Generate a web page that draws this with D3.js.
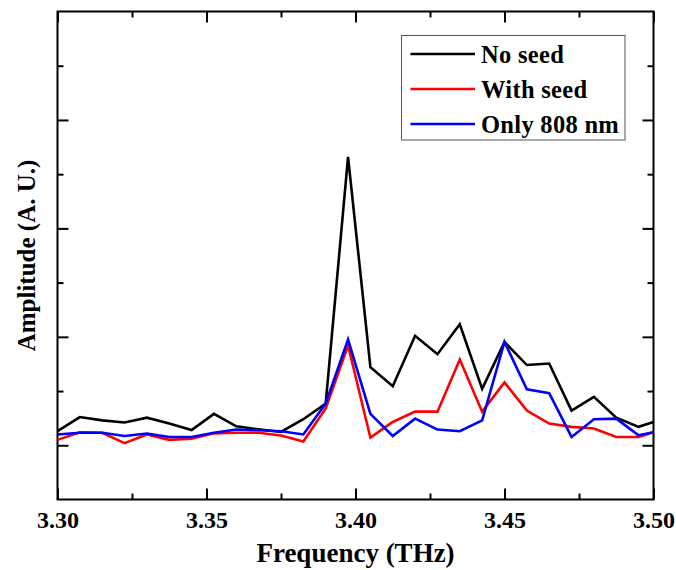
<!DOCTYPE html>
<html>
<head>
<meta charset="utf-8">
<script src="https://cdn.jsdelivr.net/npm/d3@7"></script>
<style>
  html, body { margin: 0; padding: 0; background: #ffffff; }
  svg { display: block; }
  text { font-family: "Liberation Serif", "Times New Roman", serif; font-weight: bold; fill: #000; }
</style>
</head>
<body>
<svg id="chart" width="676" height="570"></svg>
<script>
// Frequency samples (THz)
const freq = [3.3, 3.3075, 3.315, 3.3225, 3.33, 3.3375, 3.345, 3.3525, 3.36, 3.3675,
              3.375, 3.3825, 3.39, 3.3975, 3.405, 3.4125, 3.42, 3.4275, 3.435, 3.4425,
              3.45, 3.4575, 3.465, 3.4725, 3.48, 3.4875, 3.495, 3.5];

// Amplitude spectra (arbitrary units)
const noSeed   = [0.13, 0.26, 0.23, 0.21, 0.255, 0.20, 0.14, 0.29, 0.175, 0.147,
                  0.123, 0.24, 0.385, 2.66, 0.72, 0.545, 1.01, 0.84, 1.116, 0.52,
                  0.953, 0.74, 0.754, 0.32, 0.446, 0.255, 0.17, 0.215];
const withSeed = [0.05, 0.12, 0.115, 0.02, 0.10, 0.05, 0.06, 0.11, 0.115, 0.115,
                  0.09, 0.035, 0.34, 0.92, 0.07, 0.215, 0.31, 0.31, 0.79, 0.31,
                  0.58, 0.32, 0.20, 0.17, 0.155, 0.077, 0.077, 0.12];
const only808  = [0.10, 0.115, 0.115, 0.086, 0.108, 0.077, 0.077, 0.115, 0.145, 0.138,
                  0.13, 0.10, 0.385, 0.975, 0.29, 0.086, 0.246, 0.145, 0.13, 0.23,
                  0.953, 0.516, 0.48, 0.077, 0.24, 0.246, 0.092, 0.12];

const seriesNames  = ["No seed", "With seed", "Only 808 nm"];
const seriesColors = ["#000000", "#ff0000", "#0000ff"];

const xMajorTicks = [3.30, 3.35, 3.40, 3.45, 3.50];
const xMinorTicks = [3.325, 3.375, 3.425, 3.475];
const yMajorTicks = [0, 1, 2, 3];
const yMinorTicks = [0.5, 1.5, 2.5, 3.5];

const xTitle = "Frequency (THz)";
const yTitle = "Amplitude (A. U.)";

// Layout
const plot = { left: 57.5, top: 11.5, right: 653.5, bottom: 499.5 };
const svg = d3.select("#chart");

const x = d3.scaleLinear().domain([3.30, 3.50]).range([plot.left, plot.right]);
const y = d3.scaleLinear().domain([-0.5, 4.0]).range([plot.bottom, plot.top]);

const majorLen = 11, minorLen = 6;

// Inward ticks on all four sides
function addAxis(axisFn, values, len, transform, labels) {
  const ax = axisFn.tickValues(values).tickSizeInner(-len).tickSizeOuter(0);
  if (labels) ax.tickFormat(d3.format(".2f")); else ax.tickFormat("");
  const g = svg.append("g").attr("transform", transform).call(ax);
  g.select(".domain").remove();
  g.selectAll(".tick line").attr("stroke", "#000").attr("stroke-width", 2);
  return g;
}

const bottomMajor = addAxis(d3.axisBottom(x), xMajorTicks, majorLen, `translate(0,${plot.bottom})`, true);
bottomMajor.selectAll(".tick text")
  .attr("y", 28).attr("dy", 0)
  .style("font-size", "24px")
  .style("font-family", "'Liberation Serif', 'Times New Roman', serif")
  .style("font-weight", "bold");
addAxis(d3.axisBottom(x), xMinorTicks, minorLen, `translate(0,${plot.bottom})`, false);
addAxis(d3.axisTop(x), xMajorTicks, majorLen, `translate(0,${plot.top})`, false);
addAxis(d3.axisTop(x), xMinorTicks, minorLen, `translate(0,${plot.top})`, false);
addAxis(d3.axisLeft(y), yMajorTicks, majorLen, `translate(${plot.left},0)`, false);
addAxis(d3.axisLeft(y), yMinorTicks, minorLen, `translate(${plot.left},0)`, false);
addAxis(d3.axisRight(y), yMajorTicks, majorLen, `translate(${plot.right},0)`, false);
addAxis(d3.axisRight(y), yMinorTicks, minorLen, `translate(${plot.right},0)`, false);

// Plot frame
svg.append("rect")
  .attr("x", plot.left).attr("y", plot.top)
  .attr("width", plot.right - plot.left).attr("height", plot.bottom - plot.top)
  .attr("fill", "none").attr("stroke", "#000").attr("stroke-width", 2);

// Spectra
const series = [noSeed, withSeed, only808];
const line = d3.line().x((d, i) => x(freq[i])).y(d => y(d));
series.forEach((vals, k) => {
  svg.append("path")
    .datum(vals)
    .attr("d", line)
    .attr("fill", "none")
    .attr("stroke", seriesColors[k])
    .attr("stroke-width", 2.6)
    .attr("stroke-linejoin", "miter");
});

// Legend
const legend = svg.append("g");
legend.append("rect")
  .attr("x", 401.5).attr("y", 35.5).attr("width", 223.5).attr("height", 104.5)
  .attr("fill", "#ffffff").attr("stroke", "#555").attr("stroke-width", 1);
seriesNames.forEach((name, k) => {
  const ly = 54 + k * 35;
  legend.append("line")
    .attr("x1", 410.5).attr("x2", 475).attr("y1", ly).attr("y2", ly)
    .attr("stroke", seriesColors[k]).attr("stroke-width", 2.6);
  legend.append("text")
    .attr("x", 481).attr("y", ly + 8.7)
    .style("font-size", "24.5px")
    .style("letter-spacing", "0.3px")
    .text(name);
});

// Axis titles
svg.append("text")
  .attr("x", (plot.left + plot.right) / 2).attr("y", 562)
  .attr("text-anchor", "middle")
  .style("font-size", "27px")
  .text(xTitle);

svg.append("text")
  .attr("transform", `translate(35,${(plot.top + plot.bottom) / 2}) rotate(-90)`)
  .attr("text-anchor", "middle")
  .style("font-size", "25px")
  .text(yTitle);
</script>
</body>
</html>
